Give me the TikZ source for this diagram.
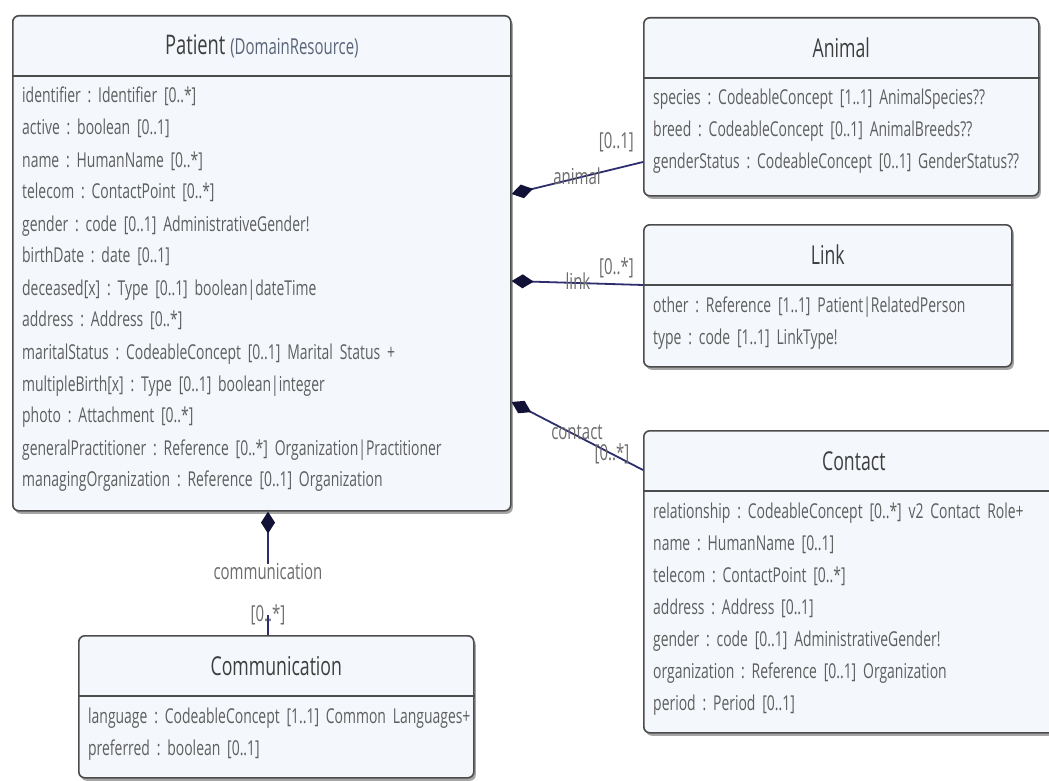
\documentclass[tikz,border=0pt]{standalone}
\usepackage{fontspec}
\setmainfont{Open Sans}[FakeStretch=0.68]
\usetikzlibrary{arrows.meta,shadows}
\definecolor{boxfill}{HTML}{F4F7FB}
\definecolor{boxdraw}{HTML}{4C4C4C}
\definecolor{txt}{HTML}{5E5E5E}
\definecolor{ttl}{HTML}{3E3E3E}
\definecolor{drc}{HTML}{5A6478}
\definecolor{conn}{HTML}{2E2E6E}
\definecolor{diam}{HTML}{121238}
\definecolor{lbl}{HTML}{6C6C6C}
\tikzset{
  umlbox/.style={draw=boxdraw, line width=1.6pt, fill=boxfill, rounded corners=6pt,
    anchor=north west, inner sep=0pt,
    drop shadow={shadow xshift=2pt, shadow yshift=-3pt, fill=black!70, opacity=0.5}},
  boxtitle/.style={font=\fontsize{26}{30}\selectfont, text=ttl, inner sep=0pt, anchor=center},
  rowtext/.style={font=\fontsize{20.5}{32}\selectfont, text=txt, inner sep=0pt,
    anchor=base west, align=left, text width=600pt},
  sepline/.style={draw=boxdraw, line width=1.4pt},
  assoc/.style={draw=conn, line width=1.8pt, {Diamond[length=22pt,width=14pt,color=diam]}-},
  plainconn/.style={draw=conn, line width=1.8pt},
  rolelbl/.style={font=\fontsize{22}{24}\selectfont, text=lbl, inner sep=0pt},
}
\begin{document}
\frenchspacing
\begin{tikzpicture}[x=1pt,y=-1pt]
\useasboundingbox (0,0) rectangle (1049,781);
\clip (0,0) rectangle (1049,781);
\fill[white] (0,0) rectangle (1049,781);

% ---------- Patient ----------
\node[umlbox, minimum width=498pt, minimum height=495pt] (patient) at (12,15) {};
\draw[sepline] ([yshift=-61pt]patient.north west) -- ([yshift=-61pt]patient.north east);
\node[boxtitle] (patientT) at ([yshift=-31pt]patient.north)
  {\fontsize{27}{30}\selectfont Patient {\fontsize{22}{26}\selectfont\color{drc}(DomainResource)}};
\node[rowtext] (patientB) at ([xshift=10pt,yshift=-88pt]patient.north west)
  {identifier : Identifier [0..*]\\
   active : boolean [0..1]\\
   name : HumanName [0..*]\\
   telecom : ContactPoint [0..*]\\
   gender : code [0..1] AdministrativeGender!\\
   birthDate : date [0..1]\\
   deceased[x] : Type [0..1] boolean|dateTime\\
   address : Address [0..*]\\
   maritalStatus : CodeableConcept [0..1] Marital Status +\\
   multipleBirth[x] : Type [0..1] boolean|integer\\
   photo : Attachment [0..*]\\
   generalPractitioner : Reference [0..*] Organization|Practitioner\\
   managingOrganization : Reference [0..1] Organization};

% ---------- Animal ----------
\node[umlbox, minimum width=395pt, minimum height=178pt] (animal) at (643,17) {};
\draw[sepline] ([yshift=-61pt]animal.north west) -- ([yshift=-61pt]animal.north east);
\node[boxtitle] (animalT) at ([yshift=-31pt]animal.north) {Animal};
\node[rowtext] (animalB) at ([xshift=10pt,yshift=-88pt]animal.north west)
  {species : CodeableConcept [1..1] AnimalSpecies??\\
   breed : CodeableConcept [0..1] AnimalBreeds??\\
   genderStatus : CodeableConcept [0..1] GenderStatus??};

% ---------- Link ----------
\node[umlbox, minimum width=368pt, minimum height=142pt] (link) at (643,224) {};
\draw[sepline] ([yshift=-61pt]link.north west) -- ([yshift=-61pt]link.north east);
\node[boxtitle] (linkT) at ([yshift=-31pt]link.north) {Link};
\node[rowtext] (linkB) at ([xshift=10pt,yshift=-88pt]link.north west)
  {other : Reference [1..1] Patient|RelatedPerson\\
   type : code [1..1] LinkType!};

% ---------- Contact ----------
\node[umlbox, minimum width=420pt, minimum height=302pt] (contact) at (643,430) {};
\draw[sepline] ([yshift=-61pt]contact.north west) -- ([yshift=-61pt]contact.north east);
\node[boxtitle] (contactT) at ([yshift=-31pt]contact.north) {Contact};
\node[rowtext] (contactB) at ([xshift=10pt,yshift=-88pt]contact.north west)
  {relationship : CodeableConcept [0..*] v2 Contact Role+\\
   name : HumanName [0..1]\\
   telecom : ContactPoint [0..*]\\
   address : Address [0..1]\\
   gender : code [0..1] AdministrativeGender!\\
   organization : Reference [0..1] Organization\\
   period : Period [0..1]};

% ---------- Communication ----------
\node[umlbox, minimum width=395pt, minimum height=142pt] (comm) at (78,635) {};
\draw[sepline] ([yshift=-61pt]comm.north west) -- ([yshift=-61pt]comm.north east);
\node[boxtitle] (commT) at ([yshift=-31pt]comm.north) {Communication};
\node[rowtext] (commB) at ([xshift=10pt,yshift=-88pt]comm.north west)
  {language : CodeableConcept [1..1] Common Languages+\\
   preferred : boolean [0..1]};

% ---------- connector end points ----------
\coordinate (pA) at ([yshift=-179pt]patient.north east);
\coordinate (aA) at ([yshift=-145pt]animal.north west);
\coordinate (pL) at ([yshift=-266pt]patient.north east);
\coordinate (lL) at ([yshift=-61pt]link.north west);
\coordinate (pC) at ([yshift=-387pt]patient.north east);
\coordinate (cC) at ([yshift=-40pt]contact.north west);
\coordinate (pM) at ([xshift=256pt]patient.south west);
\coordinate (mC) at ([xshift=190pt]comm.north west);

% ---------- communication labels ----------
\node[rolelbl] (commRole) at (268,572) {communication};
\node[rolelbl] (commMult) at (268,615) {[0..*]};

% ---------- connectors ----------
\draw[assoc] (pA) -- (aA);
\draw[assoc] (pL) -- (lL);
\draw[assoc] (pC) -- (cC);
\draw[assoc] (pM) -- (commRole.north);
\draw[plainconn] (commMult.center) -- (mC);

% ---------- other labels ----------
\node[rolelbl] (animalRole) at (577,176) {animal};
\node[rolelbl, anchor=east] (animalMult) at (634,142) {[0..1]};
\node[rolelbl] (linkRole) at (578,281) {link};
\node[rolelbl, anchor=east] (linkMult) at (634,268) {[0..*]};
\node[rolelbl] (contactRole) at (577,432) {contact};
\node[rolelbl] (contactMult) at (612,454) {[0..*]};
\end{tikzpicture}
\end{document}
